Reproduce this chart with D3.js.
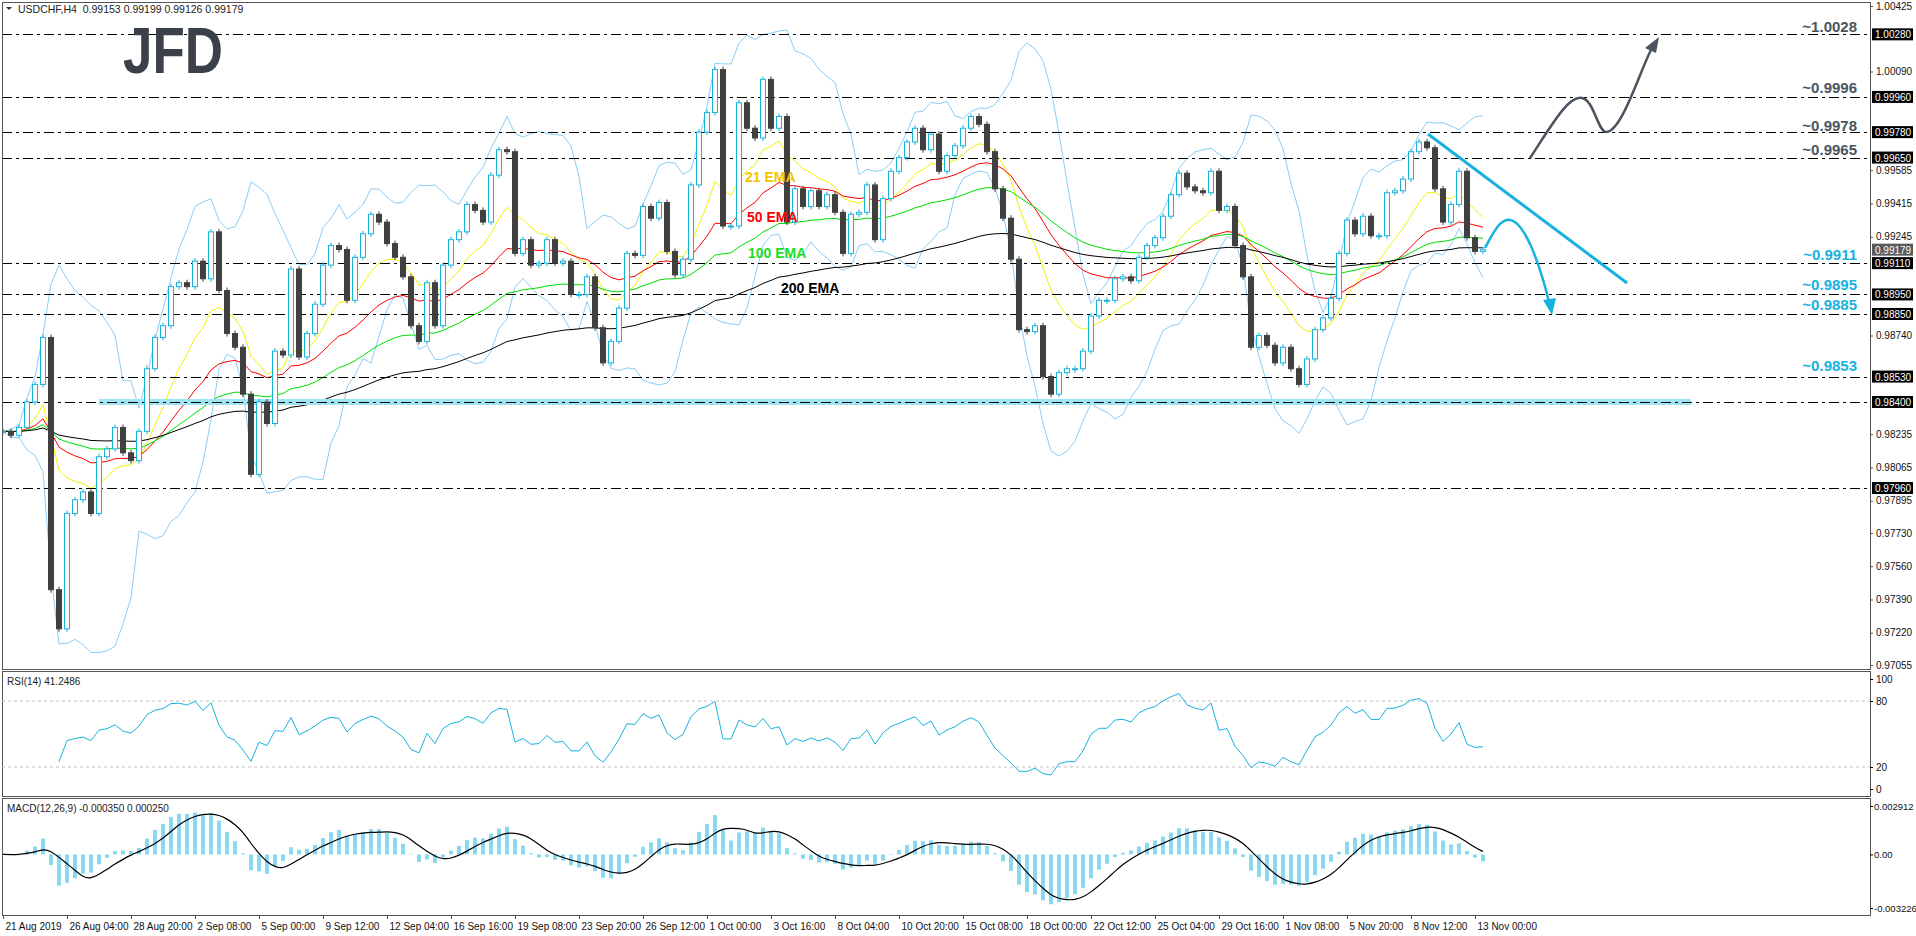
<!DOCTYPE html>
<html><head><meta charset="utf-8">
<script src="https://cdn.jsdelivr.net/npm/d3@7/dist/d3.min.js"></script>
<style>body{margin:0;background:#fff}svg{display:block}text{font-family:"Liberation Sans",Arial,sans-serif}</style>
</head><body><svg id="c" width="1916" height="936"></svg>
<script>
// closes, one every two H4 bars
const closes = [0.9825,0.9823,0.9827,0.9840,0.9849,0.9873,0.9744,0.9724,0.9783,0.9790,0.9794,0.9783,0.9812,0.9816,0.9827,0.9814,0.9810,0.9825,0.9857,0.9873,0.9879,0.9899,0.9901,0.9899,0.9912,0.9903,0.9927,0.9897,0.9875,0.9868,0.9844,0.9803,0.9840,0.9829,0.9866,0.9864,0.9908,0.9863,0.9875,0.9890,0.9910,0.9920,0.9918,0.9892,0.9914,0.9926,0.9936,0.9932,
0.9921,0.9914,0.9904,0.9879,0.9871,0.9901,0.9879,0.9910,0.9923,0.9927,0.9941,0.9938,0.9932,0.9956,0.9969,0.9968,0.9916,0.9923,0.9910,0.9911,0.9923,0.9911,0.9912,0.9895,0.9895,0.9904,0.9878,0.9860,0.9871,0.9888,0.9916,0.9915,0.9940,0.9934,0.9942,0.9917,0.9905,0.9913,0.9951,0.9978,0.9988,1.0010,0.9930,0.9930,0.9993,0.9980,
0.9975,1.0005,0.9980,0.9986,0.9932,0.9949,0.9940,0.9948,0.9940,0.9946,0.9937,0.9916,0.9936,0.9937,0.9951,0.9923,0.9944,0.9958,0.9965,0.9973,0.9980,0.9969,0.9977,0.9958,0.9966,0.9971,0.9980,0.9986,0.9982,0.9968,0.9949,0.9934,0.9913,0.9877,0.9876,0.9879,0.9853,0.9844,0.9855,0.9857,0.9857,0.9866,0.9884,0.9892,0.9892,0.9903,
0.9904,0.9902,0.9914,0.9920,0.9924,0.9935,0.9946,0.9957,0.9950,0.9948,0.9947,0.9958,0.9938,0.9940,0.9920,0.9904,0.9868,0.9874,0.9869,0.9860,0.9868,0.9857,0.9849,0.9862,0.9877,0.9883,0.9893,0.9916,0.9933,0.9926,0.9935,0.9925,0.9925,0.9947,0.9948,0.9954,0.9968,0.9973,0.9970,0.9949,0.9932,0.9941,0.9958,0.9924,0.9917,0.99179];
const dateLabels = ["21 Aug 2019","26 Aug 04:00","28 Aug 20:00","2 Sep 08:00","5 Sep 00:00","9 Sep 12:00","12 Sep 04:00","16 Sep 16:00","19 Sep 08:00","23 Sep 20:00","26 Sep 12:00","1 Oct 00:00","3 Oct 16:00","8 Oct 04:00","10 Oct 20:00","15 Oct 08:00","18 Oct 00:00","22 Oct 12:00","25 Oct 04:00","29 Oct 16:00","1 Nov 08:00","5 Nov 20:00","8 Nov 12:00","13 Nov 00:00"];
const priceTicks = [1.00425,1.00260,1.00090,0.99920,0.99750,0.99585,0.99415,0.99245,0.99075,0.98910,0.98740,0.98570,0.98400,0.98235,0.98065,0.97895,0.97730,0.97560,0.97390,0.97220,0.97055];
const levelsGray = [1.0028,0.9996,0.9978,0.9965];
const levelsCyan = [0.9911,0.9895,0.9885,0.9853];
const lineLevels = [1.0028,0.9996,0.9978,0.9965,0.9911,0.9895,0.9885,0.9853,0.9840,0.9796];
const boxLevels = [1.00280,0.99960,0.99780,0.99650,0.99110,0.98950,0.98850,0.98530,0.98400,0.97960];
const supportLevel = 0.9840;
const lastPrice = 0.99179;
const emaPeriods = [21,50,100,200];
const emaColors = ["#f2f200","#ff0000","#00dd00","#000000"];
const emaNames = ["21 EMA","50 EMA","100 EMA","200 EMA"];
const emaLabelColors = ["#f5c400","#ff0000","#22dd22","#000000"];
const rsiTicks = [100,80,20,0];
const macdTicks = [0.002912,0,-0.003226];

const svg = d3.select("#c");
const AX = 1870, L = 2;
const CYAN = "#17b2de", DARK = "#404040", GRAY = "#4a545e";
const barX = d3.scaleLinear().domain([0,370]).range([3,1483]);
const cx = i => barX(2*i);
const y = d3.scaleLinear().domain([0.97055,1.00425]).range([665,6]);
const yR = d3.scaleLinear().domain([0,100]).range([789,679]);
const yM = d3.scaleLinear().domain([-0.003226,0.002912]).range([908,806]);

[[2,669],[671,796],[798,915]].forEach(([a,b])=>{
  svg.append("rect").attr("x",L+0.5).attr("y",a+0.5).attr("width",AX-L).attr("height",b-a).attr("fill","none").attr("stroke","#555").attr("stroke-width",1);
});
svg.append("defs").append("clipPath").attr("id","mc").append("rect").attr("x",L+1).attr("y",3).attr("width",AX-L-1).attr("height",665);
const main = svg.append("g").attr("clip-path","url(#mc)");

function ema(arr,p){const a=2/(p/2+1);let out=[],e=arr[0];arr.forEach((v,i)=>{e=i?e+a*(v-e):v;out.push(e)});return out;}
const bbP=10, bbU=[], bbL=[];
closes.forEach((v,i)=>{const s=closes.slice(Math.max(0,i-bbP+1),i+1);const m=d3.mean(s);const sd=Math.sqrt(d3.mean(s,x=>(x-m)*(x-m)));bbU.push(m+2*sd);bbL.push(m-2*sd);});
const line = d3.line().x((d,i)=>cx(i)).y(d=>y(d));
[bbU,bbL].forEach(b=>main.append("path").attr("d",line(b)).attr("fill","none").attr("stroke","#8ccdf5").attr("stroke-width",1));
emaPeriods.forEach((p,k)=>main.append("path").attr("d",line(ema(closes,p))).attr("fill","none").attr("stroke",emaColors[k]).attr("stroke-width",1));

main.append("rect").attr("x",99).attr("width",1691-99).attr("y",y(supportLevel)-3).attr("height",6).attr("fill","#9ee4f2");
lineLevels.forEach(v=>main.append("line").attr("x1",L).attr("x2",AX).attr("y1",Math.round(y(v))+0.5).attr("y2",Math.round(y(v))+0.5).attr("stroke","#000").attr("stroke-dasharray","10,4,3,4"));

closes.forEach((c,i)=>{
  const o = i?closes[i-1]:c;
  const up = c>=o;
  const y1=y(Math.max(o,c)), y2=y(Math.min(o,c));
  const h=Math.max(1,y2-y1);
  main.append("line").attr("x1",cx(i)).attr("x2",cx(i)).attr("y1",y1-3).attr("y2",y1+h+3).attr("stroke",up?CYAN:DARK);
  main.append("rect").attr("x",cx(i)-2.5).attr("y",y1).attr("width",5).attr("height",h)
    .attr("fill",up?"#fff":DARK).attr("stroke",up?CYAN:DARK).attr("stroke-width",1);
});

const emaLab=[[745,177],[747,217],[748,253],[781,288]];
emaNames.forEach((t,k)=>svg.append("text").attr("x",emaLab[k][0]).attr("y",emaLab[k][1]+5).text(t)
  .attr("fill",emaLabelColors[k]).attr("font-size",14).attr("font-weight","bold").attr("font-family","DejaVu Sans"));

svg.append("line").attr("x1",1428).attr("y1",134).attr("x2",1627).attr("y2",283).attr("stroke",CYAN).attr("stroke-width",3);
svg.append("path").attr("d","M1530,158 C1550,128 1568,95 1582,98 C1594,100 1598,132 1606,132 C1622,132 1640,70 1652,48")
  .attr("fill","none").attr("stroke",GRAY).attr("stroke-width",2.5);
svg.append("path").attr("d","M1659,37 L1645,48 L1656,53 Z").attr("fill",GRAY);
svg.append("path").attr("d","M1485,248 C1492,235 1500,218 1510,220 C1525,222 1540,265 1549,302")
  .attr("fill","none").attr("stroke",CYAN).attr("stroke-width",2.5);
svg.append("path").attr("d","M1552,315 L1543,300 L1556,298 Z").attr("fill",CYAN);

const labY={1.0028:27,0.9996:88,0.9978:126,0.9965:150,0.9911:255,0.9895:285,0.9885:305,0.9853:366};
levelsGray.forEach(v=>svg.append("text").attr("x",1857).attr("y",labY[v]+5).attr("text-anchor","end").text("~"+v.toFixed(4))
  .attr("fill",GRAY).attr("font-size",15).attr("font-weight","bold"));
levelsCyan.forEach(v=>svg.append("text").attr("x",1857).attr("y",labY[v]+5).attr("text-anchor","end").text("~"+v.toFixed(4))
  .attr("fill",CYAN).attr("font-size",15).attr("font-weight","bold"));

// price axis (labels hidden where a level box sits on top, as in the terminal)
const boxes = boxLevels.concat([lastPrice]);
const shown = priceTicks.filter(t=>!boxes.some(b=>Math.abs(y(b)-y(t))<11));
const pa = svg.append("g").attr("transform",`translate(${AX},0)`).call(d3.axisRight(y).tickValues(shown).tickFormat(d3.format(".5f")).tickSize(3));
pa.select(".domain").remove();
pa.selectAll("text").attr("font-size",10).attr("fill","#111").attr("x",6).style("font-family","Liberation Sans");
pa.selectAll("line").attr("stroke","#555");
boxes.forEach(v=>{
  const yy=y(v);
  svg.append("rect").attr("x",AX+2).attr("y",yy-6).attr("width",41).attr("height",12).attr("fill",v===lastPrice?"#5a5a5a":"#000");
  svg.append("text").attr("x",AX+5).attr("y",yy+4).text(v.toFixed(5)).attr("fill","#fff").attr("font-size",10);
});

svg.append("path").attr("d","M6,7 L12,7 L9,10 Z").attr("fill","#333");
svg.append("text").attr("x",18).attr("y",13).text("USDCHF,H4  0.99153 0.99199 0.99126 0.99179").attr("font-size",10.5).attr("fill","#222").attr("xml:space","preserve");
svg.append("text").attr("x",123).attr("y",73).text("JFD").attr("font-size",64).attr("font-weight","900").attr("fill","#3b4148")
  .attr("textLength",100).attr("lengthAdjust","spacingAndGlyphs").attr("font-family","DejaVu Sans");

// RSI
let ag=0,al=0;const rp=7,rsi=[];
closes.forEach((c,i)=>{if(!i){rsi.push(null);return;}const d=c-closes[i-1];const g=Math.max(d,0),l=Math.max(-d,0);
  if(i<=rp){ag+=g/rp;al+=l/rp;rsi.push(null);if(i<rp)return;rsi[i]=al===0?100:100-100/(1+ag/al);return;}
  ag=(ag*(rp-1)+g)/rp;al=(al*(rp-1)+l)/rp;
  rsi.push(al===0?100:100-100/(1+ag/al));});
[80,20].forEach(v=>svg.append("line").attr("x1",L).attr("x2",AX).attr("y1",yR(v)).attr("y2",yR(v)).attr("stroke","#c0c0c0").attr("stroke-dasharray","3,3"));
svg.append("path").attr("d",d3.line().defined(d=>d!=null).x((d,i)=>cx(i)).y(d=>yR(d))(rsi)).attr("fill","none").attr("stroke",CYAN).attr("stroke-width",1);
svg.append("text").attr("x",7).attr("y",685).text("RSI(14) 41.2486").attr("font-size",10).attr("fill","#222");
const ra=svg.append("g").attr("transform",`translate(${AX},0)`).call(d3.axisRight(yR).tickValues(rsiTicks).tickSize(3));
ra.select(".domain").remove();ra.selectAll("text").attr("font-size",10).attr("fill","#111").attr("x",6).style("font-family","Liberation Sans");

// MACD
const e1=ema(closes,12),e2=ema(closes,26);const macd=e1.map((v,i)=>v-e2[i]);
const sig=[];macd.forEach((v,i)=>{const s=macd.slice(Math.max(0,i-4),i+1);sig.push(d3.mean(s));});
macd.forEach((v,i)=>{[-1,1].forEach(dx=>svg.append("line").attr("x1",cx(i)+dx).attr("x2",cx(i)+dx).attr("y1",yM(0)).attr("y2",yM(v)).attr("stroke",CYAN).attr("stroke-width",1));});
svg.append("path").attr("d",d3.line().x((d,i)=>cx(i)).y(d=>yM(d)).curve(d3.curveBasis)(sig)).attr("fill","none").attr("stroke","#000").attr("stroke-width",1.2);
svg.append("text").attr("x",7).attr("y",812).text("MACD(12,26,9) -0.000350 0.000250").attr("font-size",10).attr("fill","#222");
const ma=svg.append("g").attr("transform",`translate(${AX},0)`).call(d3.axisRight(yM).tickValues(macdTicks).tickFormat(d=>d===0?"0.00":d.toFixed(6)).tickSize(3));
ma.select(".domain").remove();ma.selectAll("text").attr("font-size",9.5).attr("fill","#111").attr("x",4).style("font-family","Liberation Sans");

const xa=svg.append("g").attr("transform","translate(0,915)").call(d3.axisBottom(barX).tickValues(dateLabels.map((d,k)=>16*k)).tickFormat((d,k)=>dateLabels[k]).tickSize(4));
xa.select(".domain").remove();
xa.selectAll("text").attr("font-size",10).attr("fill","#111").attr("text-anchor","start").attr("dx",2).attr("y",8).style("font-family","Liberation Sans");
xa.selectAll("line").attr("stroke","#555");
</script></body></html>
